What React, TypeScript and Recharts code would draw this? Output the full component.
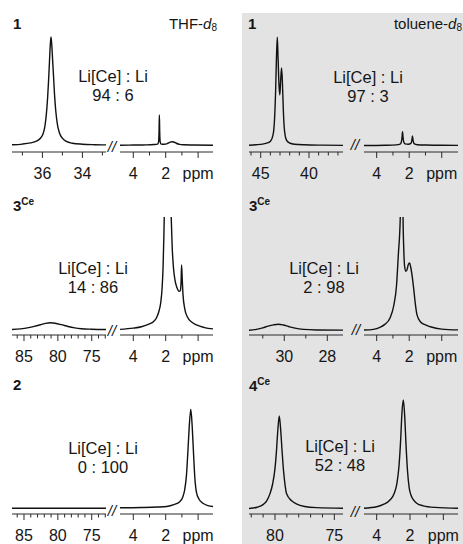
import React from 'react';
import { LineChart, Line, XAxis, YAxis } from 'recharts';

const FONT = '"Liberation Sans", Arial, Helvetica, sans-serif';
const INK = '#161616';

// ---------- spectra: [ppm, intensity] ----------
const thf1High: [number, number][] = [
  [37.52, 6.0], [37.0, 6.6], [36.6, 7.6], [36.3, 9.0], [36.1, 11.5], [35.97, 15], [35.87, 22], [35.8, 32],
  [35.74, 45], [35.69, 60], [35.65, 74], [35.61, 88], [35.57, 95.8], [35.53, 89], [35.49, 77], [35.44, 62],
  [35.39, 47], [35.33, 34], [35.25, 23], [35.15, 16], [35.0, 11.5], [34.8, 8.8], [34.5, 7.3], [34.0, 6.5],
  [33.4, 6.1], [32.82, 5.9],
];
const thf1Low: [number, number][] = [
  [4.82, 5.6], [4.0, 5.8], [3.2, 5.9], [2.7, 6.2], [2.5, 6.6], [2.44, 8.5], [2.41, 17], [2.39, 30.8],
  [2.37, 17], [2.34, 8.5], [2.28, 6.6], [2.1, 6.4], [1.9, 7.0], [1.75, 8.0], [1.62, 8.6], [1.5, 8.3],
  [1.35, 7.3], [1.15, 6.4], [0.9, 6.0], [0.3, 5.8], [-0.92, 5.6],
];
const tol1High: [number, number][] = [
  [46.21, 5.6], [45.5, 6.0], [44.8, 6.6], [44.3, 7.6], [44.0, 9], [43.8, 12], [43.65, 18], [43.55, 30],
  [43.45, 52], [43.37, 78], [43.28, 95.6], [43.2, 78], [43.1, 55], [43.02, 47.5], [42.93, 60], [42.84, 70],
  [42.76, 60], [42.67, 38], [42.57, 21], [42.45, 13], [42.3, 9.5], [42.0, 7.5], [41.5, 6.5], [40.5, 6],
  [38.5, 5.7], [36.48, 5.5],
];
const tol1Low: [number, number][] = [
  [4.78, 5.4], [3.5, 5.6], [2.8, 5.9], [2.56, 6.5], [2.48, 8.5], [2.44, 12.5], [2.41, 16.9], [2.38, 12.5],
  [2.34, 8.5], [2.26, 6.8], [2.05, 6.5], [1.9, 7.2], [1.84, 9.5], [1.8, 13.3], [1.76, 9.5], [1.7, 7],
  [1.5, 6.1], [1.0, 5.8], [0, 5.6], [-1.0, 5.5],
];
const thf3High: [number, number][] = [
  [86.77, 4.6], [85.5, 5.2], [84.5, 6], [83.5, 7.3], [82.5, 8.8], [81.8, 9.9], [81.1, 10.4], [80.4, 10],
  [79.5, 8.8], [78.5, 7.2], [77.5, 6], [76.5, 5.3], [75, 4.9], [72.89, 4.6],
];
const thf3Low: [number, number][] = [
  [4.82, 4.8], [4.0, 5.8], [3.5, 7], [3.0, 9.5], [2.76, 11.3], [2.55, 15], [2.4, 21], [2.3, 28], [2.22, 40],
  [2.16, 58], [2.11, 85], [2.07, 115], [2.0, 190], [1.9, 240], [1.8, 190], [1.72, 130], [1.66, 100],
  [1.6, 75], [1.52, 57], [1.42, 46], [1.3, 40], [1.18, 37], [1.1, 37.5], [1.05, 45], [1.02, 59.3],
  [0.98, 48], [0.93, 34], [0.82, 22], [0.65, 15], [0.4, 11], [0.1, 8.5], [-0.4, 6.3], [-0.92, 5.2],
];
const tol3High: [number, number][] = [
  [31.64, 4.0], [31.3, 4.8], [31.0, 6], [30.75, 7.5], [30.5, 8.6], [30.28, 9.1], [30.05, 8.5], [29.8, 7.2],
  [29.5, 5.8], [29.1, 4.8], [28.5, 4.3], [27.27, 4.1],
];
const tol3Low: [number, number][] = [
  [4.78, 4.2], [4.2, 4.8], [3.8, 6.5], [3.5, 9], [3.18, 14.4], [2.95, 25], [2.78, 42], [2.66, 70],
  [2.58, 88], [2.55, 100], [2.5, 170], [2.46, 210], [2.42, 170], [2.38, 100], [2.34, 75], [2.28, 58],
  [2.2, 54], [2.12, 56], [2.05, 60], [1.98, 61], [1.9, 57], [1.8, 48], [1.73, 40], [1.62, 26], [1.52, 17],
  [1.3, 11], [1.0, 8.5], [0.7, 7], [0, 5], [-1.0, 4.3],
];
const thf2High: [number, number][] = [[86.77, 4.75], [80, 4.75], [72.89, 4.75]];
const thf2Low: [number, number][] = [
  [4.82, 5.2], [3.5, 5.4], [2.5, 5.8], [1.94, 6.3], [1.5, 7.8], [1.13, 10.3], [0.95, 14], [0.83, 20],
  [0.72, 32], [0.63, 52], [0.55, 72], [0.45, 87.3], [0.36, 72], [0.28, 50], [0.2, 30], [0.1, 18],
  [-0.05, 12.5], [-0.3, 9], [-0.6, 7], [-0.92, 6.3],
];
const tol4High: [number, number][] = [
  [82.19, 4.6], [81.5, 5.6], [80.98, 8], [80.7, 11], [80.42, 17], [80.2, 25], [80.0, 38], [79.88, 52],
  [79.76, 70], [79.64, 81.7], [79.52, 70], [79.4, 52], [79.28, 36], [79.15, 24], [79.03, 17], [78.6, 11],
  [78.2, 8.5], [77.5, 6.3], [76.5, 5.3], [74.27, 4.8],
];
const tol4Low: [number, number][] = [
  [4.76, 4.8], [4.0, 6], [3.6, 8], [3.2, 11.7], [2.95, 17], [2.78, 26], [2.66, 40], [2.56, 62], [2.48, 85],
  [2.4, 95], [2.32, 82], [2.24, 58], [2.15, 36], [2.05, 22], [1.95, 16], [1.8, 12], [1.6, 9], [1.2, 6.8],
  [0.5, 5.5], [-0.88, 4.8],
];

// ---------- tick values ----------
const ticksLow = [4, 3, 2, 1, 0];
const majorsLow = [4, 2, 0];
const labelsLow: Record<string, string> = { '4': '4', '2': '2', '0': 'ppm' };
const ticksThf1 = [37, 36, 35, 34, 33];
const majorsThf1 = [36, 34];
const ticksTol1 = [46, 45, 44, 43, 42, 41, 40, 39, 38, 37];
const majorsTol1 = [45, 40];
const ticksThf3 = [86, 85, 84, 83, 82, 81, 80, 79, 78, 77, 76, 75, 74, 73];
const majorsThf3 = [85, 80, 75];
const ticksTol3 = [31, 30, 29, 28];
const majorsTol3 = [30, 28];
const ticksTol4 = [82, 81, 80, 79, 78, 77, 76, 75];
const majorsTol4 = [80, 75];

// ---------- text ----------
const ratioHead = 'Li[Ce] : Li';
const ratios = ['94 : 6', '97 : 3', '14 : 86', '2 : 98', '0 : 100', '52 : 48'];

const lbl = (arr: number[]) => {
  const o: Record<string, string> = {};
  arr.forEach((v) => (o[String(v)] = String(v)));
  return o;
};

const makeTick = (majors: number[], labels: Record<string, string>) => (props: any) => {
  const { x, y, payload } = props;
  const v = payload.value;
  const major = majors.includes(v);
  const lab = labels[String(v)];
  return (
    <g>
      <line x1={x} x2={x} y1={y} y2={y + (major ? 6 : 3.5)} stroke="#2a2a2a" strokeWidth={1} />
      {lab ? (
        <text x={x} y={y + 27} textAnchor="middle" fontSize={16} fontFamily={FONT} fill={INK}>
          {lab}
        </text>
      ) : null}
    </g>
  );
};

type PanelProps = {
  x0: number;
  x1: number;
  top: number;
  axisY: number;
  domain: [number, number];
  ticks: number[];
  majors: number[];
  labels: Record<string, string>;
  spec: [number, number][];
};

const PAD = 12;

function Panel({ x0, x1, top, axisY, domain, ticks, majors, labels, spec }: PanelProps) {
  const data = spec.map(([p, v]) => ({ x: p, y: v }));
  const w = x1 - x0 + PAD * 2;
  const h = axisY - top + 34;
  return (
    <div style={{ position: 'absolute', left: x0 - PAD, top, width: w, height: h }}>
      <LineChart width={w} height={h} data={data} margin={{ top: 0, right: PAD, bottom: 0, left: PAD }}>
        <XAxis
          dataKey="x"
          type="number"
          domain={domain}
          reversed
          allowDataOverflow
          ticks={ticks}
          interval={0}
          tick={makeTick(majors, labels)}
          tickLine={false}
          tickSize={0}
          tickMargin={0}
          axisLine={{ stroke: '#2a2a2a', strokeWidth: 1 }}
          height={34}
        />
        <YAxis hide type="number" domain={[0, 100]} allowDataOverflow />
        <Line
          dataKey="y"
          type="monotone"
          stroke="#111"
          strokeWidth={1.4}
          dot={false}
          isAnimationActive={false}
        />
      </LineChart>
    </div>
  );
}

const rows = [
  { top: 32, axisY: 152 },
  { top: 217, axisY: 335 },
  { top: 394, axisY: 514 },
];

export default function App() {
  const t = (x: number, y: number, s: string, opts: any = {}) => (
    <text x={x} y={y} fontFamily={FONT} fontSize={16.5} fill={INK} textAnchor="middle" {...opts}>
      {s}
    </text>
  );
  const brk = { fontSize: 15, fontStyle: 'italic' };
  return (
    <div style={{ position: 'absolute', left: 0, top: 0, width: 463, height: 544, background: '#fff', overflow: 'hidden' }}>
      <div style={{ position: 'absolute', left: 242, top: 13, width: 221, height: 531, background: '#e3e3e3' }} />

      {/* Row 1 */}
      <Panel x0={12} x1={106} {...rows[0]} domain={[32.82, 37.52]} ticks={ticksThf1} majors={majorsThf1} labels={lbl(majorsThf1)} spec={thf1High} />
      <Panel x0={120} x1={213} {...rows[0]} domain={[-0.92, 4.82]} ticks={ticksLow} majors={majorsLow} labels={labelsLow} spec={thf1Low} />
      <Panel x0={249} x1={343} {...rows[0]} domain={[36.48, 46.21]} ticks={ticksTol1} majors={majorsTol1} labels={lbl(majorsTol1)} spec={tol1High} />
      <Panel x0={364} x1={458} {...rows[0]} domain={[-1.0, 4.78]} ticks={ticksLow} majors={majorsLow} labels={labelsLow} spec={tol1Low} />

      {/* Row 2 */}
      <Panel x0={12} x1={106} {...rows[1]} domain={[72.89, 86.77]} ticks={ticksThf3} majors={majorsThf3} labels={lbl(majorsThf3)} spec={thf3High} />
      <Panel x0={120} x1={213} {...rows[1]} domain={[-0.92, 4.82]} ticks={ticksLow} majors={majorsLow} labels={labelsLow} spec={thf3Low} />
      <Panel x0={249} x1={343} {...rows[1]} domain={[27.27, 31.64]} ticks={ticksTol3} majors={majorsTol3} labels={lbl(majorsTol3)} spec={tol3High} />
      <Panel x0={364} x1={458} {...rows[1]} domain={[-1.0, 4.78]} ticks={ticksLow} majors={majorsLow} labels={labelsLow} spec={tol3Low} />

      {/* Row 3 */}
      <Panel x0={12} x1={106} {...rows[2]} domain={[72.89, 86.77]} ticks={ticksThf3} majors={majorsThf3} labels={lbl(majorsThf3)} spec={thf2High} />
      <Panel x0={120} x1={213} {...rows[2]} domain={[-0.92, 4.82]} ticks={ticksLow} majors={majorsLow} labels={labelsLow} spec={thf2Low} />
      <Panel x0={249} x1={343} {...rows[2]} domain={[74.27, 82.19]} ticks={ticksTol4} majors={majorsTol4} labels={lbl(majorsTol4)} spec={tol4High} />
      <Panel x0={364} x1={458} {...rows[2]} domain={[-0.88, 4.76]} ticks={ticksLow} majors={majorsLow} labels={labelsLow} spec={tol4Low} />

      <svg width={463} height={544} style={{ position: 'absolute', left: 0, top: 0, pointerEvents: 'none' }}>
        {/* compound labels */}
        <text x={13} y={29} fontFamily={FONT} fontSize={15} fontWeight="bold" fill={INK}>1</text>
        <text x={248} y={29} fontFamily={FONT} fontSize={15} fontWeight="bold" fill={INK}>1</text>
        <text x={13} y={211} fontFamily={FONT} fontSize={15} fontWeight="bold" fill={INK}>
          3<tspan fontSize={10} dy={-6}>Ce</tspan>
        </text>
        <text x={249} y={211} fontFamily={FONT} fontSize={15} fontWeight="bold" fill={INK}>
          3<tspan fontSize={10} dy={-6}>Ce</tspan>
        </text>
        <text x={13} y={390} fontFamily={FONT} fontSize={15} fontWeight="bold" fill={INK}>2</text>
        <text x={249} y={391} fontFamily={FONT} fontSize={15} fontWeight="bold" fill={INK}>
          4<tspan fontSize={10} dy={-6}>Ce</tspan>
        </text>

        {/* solvents */}
        <text x={217} y={29} fontFamily={FONT} fontSize={15} fill={INK} textAnchor="end">
          THF-<tspan fontStyle="italic">d</tspan><tspan fontSize={10} dy={2}>8</tspan>
        </text>
        <text x={462} y={29} fontFamily={FONT} fontSize={15} fill={INK} textAnchor="end">
          toluene-<tspan fontStyle="italic">d</tspan><tspan fontSize={10} dy={2}>8</tspan>
        </text>

        {/* ratios */}
        {t(113, 82, ratioHead)}
        {t(113, 101, ratios[0])}
        {t(368, 83, ratioHead)}
        {t(368, 102, ratios[1])}
        {t(93, 274, ratioHead)}
        {t(93, 293, ratios[2])}
        {t(324, 274, ratioHead)}
        {t(324, 293, ratios[3])}
        {t(103, 454, ratioHead)}
        {t(103, 473, ratios[4])}
        {t(340, 452, ratioHead)}
        {t(340, 471, ratios[5])}

        {/* axis breaks */}
        {t(112, 152, '//', brk)}
        {t(355, 150, '//', brk)}
        {t(112, 336, '//', brk)}
        {t(356, 335, '//', brk)}
        {t(112, 516, '//', brk)}
        {t(355, 517, '//', brk)}
      </svg>
    </div>
  );
}
